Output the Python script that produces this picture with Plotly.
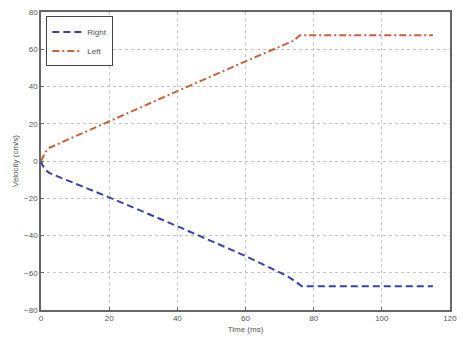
import plotly.graph_objects as go

time_right = [0, 0.5, 1.2, 2.5, 20, 40, 60, 72, 74.5, 76.5, 115]
vel_right = [0, -2.5, -4.5, -6.5, -19.5, -35, -51, -61.5, -64.5, -67.2, -67.2]
time_left = [0, 0.6, 1.4, 2.6, 20, 40, 60, 74, 76, 115]
vel_left = [0, 2.5, 5, 7.2, 21.5, 37.5, 53.5, 64.5, 67.5, 67.5]

x_ticks = [0, 20, 40, 60, 80, 100, 120]
y_ticks = [-80, -60, -40, -20, 0, 20, 40, 60, 80]

fig = go.Figure()
fig.add_trace(go.Scatter(x=time_right, y=vel_right, mode="lines", name="Right",
                         line=dict(color="#3b3fae", width=2, dash="7px,4px")))
fig.add_trace(go.Scatter(x=time_left, y=vel_left, mode="lines", name="Left",
                         line=dict(color="#c8603c", width=2, dash="7px,3px,2px,3px")))

axis_common = dict(showgrid=True, gridcolor="#c4c4c4", griddash="dot", gridwidth=1,
                   showline=True, linecolor="#666666", linewidth=1.5, mirror=True,
                   ticks="inside", ticklen=3, tickcolor="#666666",
                   tickfont=dict(family="Liberation Sans, Arial", size=8, color="#555555"),
                   zeroline=False)

fig.update_layout(
    width=463, height=344,
    margin=dict(l=41, r=6, t=12, b=34),
    paper_bgcolor="white", plot_bgcolor="white",
    showlegend=True,
    legend=dict(x=0.013, y=0.985, xanchor="left", yanchor="top",
                bgcolor="white", bordercolor="#444444", borderwidth=1,
                font=dict(family="Liberation Sans, Arial", size=8, color="#555555"),
                itemwidth=30, tracegroupgap=0),
    xaxis=dict(range=[0, 120], tickvals=x_ticks,
               title=dict(text="Time (ms)", standoff=4,
                          font=dict(family="Liberation Sans, Arial", size=8, color="#555555")),
               **axis_common),
    yaxis=dict(range=[-80, 80], tickvals=y_ticks,
               title=dict(text="Velocity (cm/s)", standoff=4,
                          font=dict(family="Liberation Sans, Arial", size=8, color="#555555")),
               **axis_common),
)

fig.write_html("out.html")
